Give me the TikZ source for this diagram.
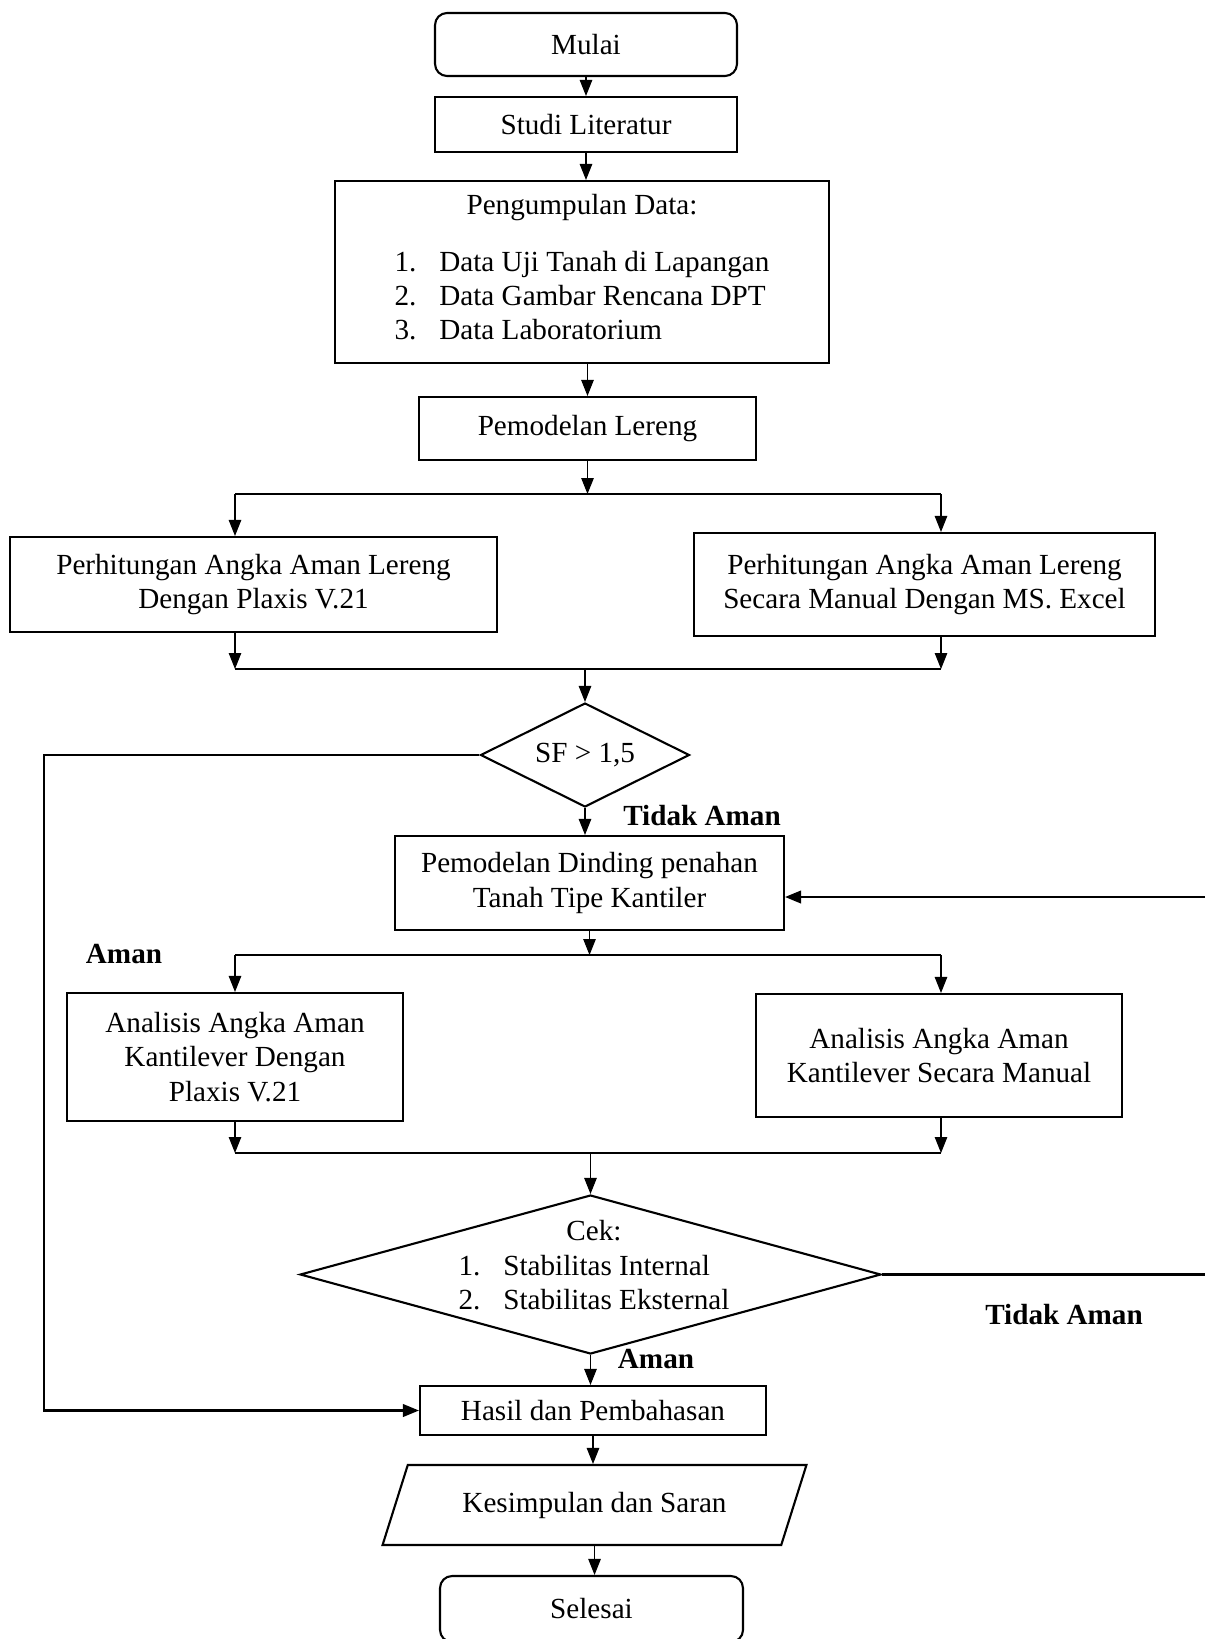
\documentclass[tikz,border=0pt]{standalone}
\usepackage{fontspec}
\setmainfont{Liberation Serif}
\usetikzlibrary{positioning,calc,arrows.meta,shapes.geometric}

\newcommand{\hurufalur}{\fontsize{16.6}{19.5}\selectfont}

\tikzset{
  kotak/.style={draw, line width=1.2pt, align=center, inner sep=2pt},
  terminal/.style={kotak, rounded corners=0.24cm},
  keputusan/.style={draw, diamond, aspect=2, line width=1.2pt, inner sep=0pt},
  jajar/.style={draw, trapezium, trapezium left angle=64, trapezium right angle=116,
    trapezium stretches=true, line width=1.2pt},
  panah/.style={->, line width=0.6pt},
  garis/.style={line width=0.6pt},
  balik/.style={line width=1.3pt},
  ket/.style={font=\hurufalur\bfseries}
}

\begin{document}
\begin{tikzpicture}[x=0.02cm, y=-0.02cm, font=\hurufalur,
    >={Triangle[length=0.32cm,width=0.25cm]}]
    \useasboundingbox (0,0) rectangle (1205,1639);
    % boxes of the main column
    \node[terminal, minimum width=6.04cm, minimum height=1.26cm] (mulai) at (586,44.5) {Mulai};
    \node[kotak, minimum width=6.04cm, minimum height=1.1cm] (studi) at (586,124.5) {Studi Literatur};
    \node[kotak, minimum width=9.88cm, minimum height=3.64cm] (data) at (582,272)
        {Pengumpulan Data:\\[14pt]
         \begin{tabular}{@{}l@{\hspace{13pt}}l@{}}
         1. & Data Uji Tanah di Lapangan\\
         2. & Data Gambar Rencana DPT\\
         3. & Data Laboratorium
         \end{tabular}};
    \node[kotak, minimum width=6.74cm, minimum height=1.26cm] (lereng) at (587.5,428.5) {Pemodelan Lereng};
    \node[kotak, minimum width=9.74cm, minimum height=1.9cm] (plaxis) at (253.5,584.5)
        {Perhitungan Angka Aman Lereng\\Dengan Plaxis V.21};
    \node[kotak, minimum width=9.22cm, minimum height=2.06cm] (excel) at (924.5,584.5)
        {Perhitungan Angka Aman Lereng\\Secara Manual Dengan MS. Excel};
    \node[keputusan, minimum width=4.18cm, minimum height=2.08cm] (sf) at (585,755) {SF > 1,5};
    \node[kotak, minimum width=7.78cm, minimum height=1.88cm] (dinding) at (589.5,883)
        {Pemodelan Dinding penahan\\Tanah Tipe Kantiler};
    \node[kotak, minimum width=6.72cm, minimum height=2.56cm] (kplaxis) at (235,1057)
        {Analisis Angka Aman\\Kantilever Dengan\\Plaxis V.21};
    \node[kotak, minimum width=7.32cm, minimum height=2.46cm] (kmanual) at (939,1055.5)
        {Analisis Angka Aman\\Kantilever Secara Manual};
    \node[keputusan, minimum width=11.62cm, minimum height=3.18cm] (cek) at (590.5,1274.5) {};
    \node[align=center, inner sep=0pt] (cektks) at (594,1270)
        {Cek:\\[5pt]
         \begin{tabular}{@{}l@{\hspace{13pt}}l@{}}
         1. & Stabilitas Internal\\
         2. & Stabilitas Eksternal
         \end{tabular}};
    \node[kotak, minimum width=6.92cm, minimum height=0.98cm] (hasil) at (593,1410.5) {Hasil dan Pembahasan};
    \node[jajar, minimum width=8.5cm, minimum height=1.6cm] (simpul) at (594.5,1505) {Kesimpulan dan Saran};
    \node[terminal, minimum width=6.06cm, minimum height=1.32cm] (selesai) at (591.5,1609) {Selesai};
    % labels
    \node[ket] (tidak1) at (702,816) {Tidak Aman};
    \node[ket] (aman1) at (124,954) {Aman};
    \node[ket] (tidak2) at (1064,1315) {Tidak Aman};
    \node[ket] (aman2) at (656,1359) {Aman};
    % branch and merge points
    \coordinate (cab1) at (587.5,494);
    \coordinate (cab1kiri) at (235,494);
    \coordinate (cab1kanan) at (941,494);
    \coordinate (gab1) at (585,669);
    \coordinate (gab1kiri) at (235,669);
    \coordinate (gab1kanan) at (941,669);
    \coordinate (cab2) at (589.5,955);
    \coordinate (cab2kiri) at (235,955);
    \coordinate (cab2kanan) at (941,955);
    \coordinate (gab2) at (590.5,1153);
    \coordinate (gab2kiri) at (235,1153);
    \coordinate (gab2kanan) at (941,1153);
    \coordinate (kiriatas) at (44,755);
    \coordinate (kiribawah) at (44,1410.5);
    \coordinate (kananmasuk) at (1205,897);
    \coordinate (kanankeluar) at (1205,1274.5);
    % connectors
    \draw[panah] (mulai) -- (studi);
    \draw[panah] (studi.south) -- (studi.south |- data.north);
    \draw[panah] (lereng.north |- data.south) -- (lereng.north);
    \draw[panah] (lereng) -- (cab1);
    \draw[garis] (cab1kiri) -- (cab1kanan);
    \draw[panah] (cab1kiri) -- (cab1kiri |- plaxis.north);
    \draw[panah] (cab1kanan) -- (cab1kanan |- excel.north);
    \draw[panah] (gab1kiri |- plaxis.south) -- (gab1kiri);
    \draw[panah] (gab1kanan |- excel.south) -- (gab1kanan);
    \draw[garis] (gab1kiri) -- (gab1kanan);
    \draw[panah] (gab1) -- (sf);
    \draw[panah] (sf.south) -- (sf.south |- dinding.north);
    \draw[panah] (dinding) -- (cab2);
    \draw[garis] (cab2kiri) -- (cab2kanan);
    \draw[panah] (cab2kiri) -- (kplaxis);
    \draw[panah] (cab2kanan) -- (cab2kanan |- kmanual.north);
    \draw[panah] (kplaxis) -- (gab2kiri);
    \draw[panah] (gab2kanan |- kmanual.south) -- (gab2kanan);
    \draw[garis] (gab2kiri) -- (gab2kanan);
    \draw[panah] (gab2) -- (cek);
    \draw[panah] (cek.south) -- (cek.south |- hasil.north);
    \draw[panah] (hasil.south) -- (hasil.south |- simpul.north);
    \draw[panah] (simpul.south) -- (simpul.south |- selesai.north);
    % loops
    \draw[balik, ->] (sf.west) -- (kiriatas) -- (kiribawah) -- (hasil.west);
    \draw[balik, ->] (kananmasuk) -- (kananmasuk -| dinding.east);
    \draw[balik] (cek.east) -- (kanankeluar);
\end{tikzpicture}
\end{document}
